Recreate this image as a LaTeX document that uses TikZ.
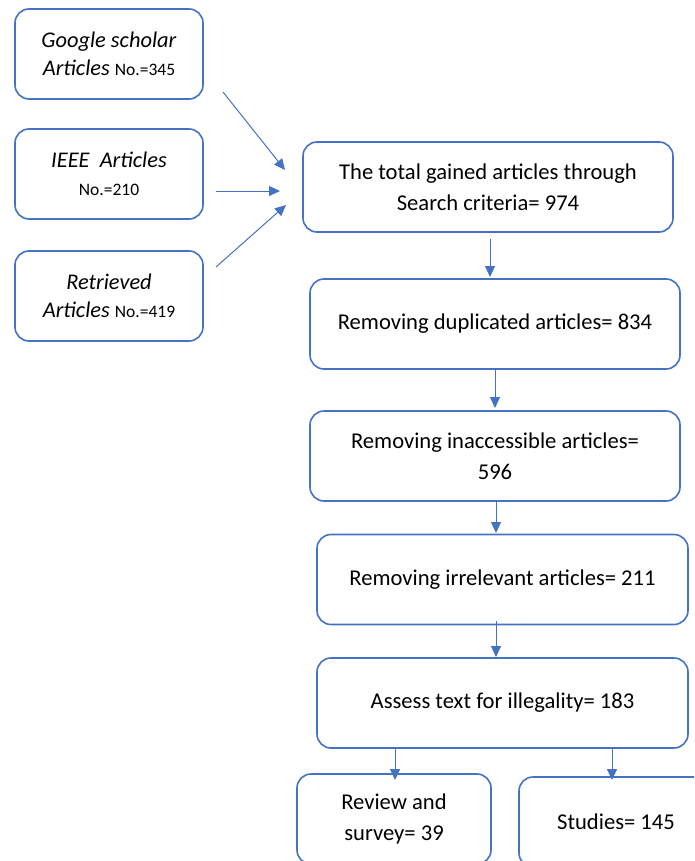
\documentclass[tikz,border=0pt]{standalone}
\usepackage{fontspec}
\setmainfont{Carlito}
\usetikzlibrary{arrows.meta}
\definecolor{flowblue}{HTML}{4472C4}
\newcommand{\nosize}{\fontsize{17.5}{17.5}\selectfont}
\begin{document}
\begin{tikzpicture}[x=1pt,y=-1pt,
  box/.style={draw=flowblue, line width=1.6pt, rounded corners=14pt, align=center,
    inner sep=0pt, minimum width=370pt, minimum height=90pt,
    font=\fontsize{22.6}{30.5}\selectfont},
  srcbox/.style={box, minimum width=188pt, font=\fontsize{22.4}{28}\selectfont},
  endbox/.style={box, minimum width=194pt},
  flow/.style={draw=flowblue, line width=1pt, -{Triangle[length=11pt,width=10pt]}}]
\useasboundingbox (0,0) rectangle (694,861);
\clip (0,0) rectangle (694,861);

% source databases
\node[srcbox] (google) at (109,54) {\textit{Google scholar}\\\textit{Articles} {\nosize No.=345}};
\node[srcbox] (ieee) at (109,174) {\textit{IEEE\ \ Articles}\\{\nosize No.=210}};
\node[srcbox] (retrieved) at (109,296) {\textit{Retrieved}\\\textit{Articles} {\nosize No.=419}};

% screening steps
\node[box] (total) at (488,187) {The total gained articles through\\Search criteria= 974};
\node[box] (dup) at (495,324) {Removing duplicated articles= 834};
\node[box] (inacc) at (495,456) {Removing inaccessible articles=\\596};
\node[box, minimum width=371pt] (irrel) at (502.5,579.5) {Removing irrelevant articles= 211};
\node[box, minimum width=371pt] (assess) at (502.5,703) {Assess text for illegality= 183};

% final split
\node[endbox] (review) at (394,819) {Review and\\survey= 39};
\node[endbox] (studies) at (616,822) {Studies= 145};

% arrow end points
\coordinate (g1) at (223,92);   \coordinate (g2) at (285,170);
\coordinate (i1) at (216,191);  \coordinate (i2) at (280,191);
\coordinate (r1) at (216,267);  \coordinate (r2) at (286,205);
\coordinate (t1) at (490,239);  \coordinate (t2) at (490,277);
\coordinate (d1) at (495,370);  \coordinate (d2) at (495,408);
\coordinate (n1) at (496,501);  \coordinate (n2) at (496,533);
\coordinate (v1) at (496,621);  \coordinate (v2) at (496,657);
\coordinate (a1) at (395,749);  \coordinate (a2) at (395,780);
\coordinate (b1) at (612,749);  \coordinate (b2) at (612,780);

\draw[flow] (g1) -- (g2);
\draw[flow] (i1) -- (i2);
\draw[flow] (r1) -- (r2);
\draw[flow] (t1) -- (t2);
\draw[flow] (d1) -- (d2);
\draw[flow] (n1) -- (n2);
\draw[flow] (v1) -- (v2);
\draw[flow] (a1) -- (a2);
\draw[flow] (b1) -- (b2);
\end{tikzpicture}
\end{document}
